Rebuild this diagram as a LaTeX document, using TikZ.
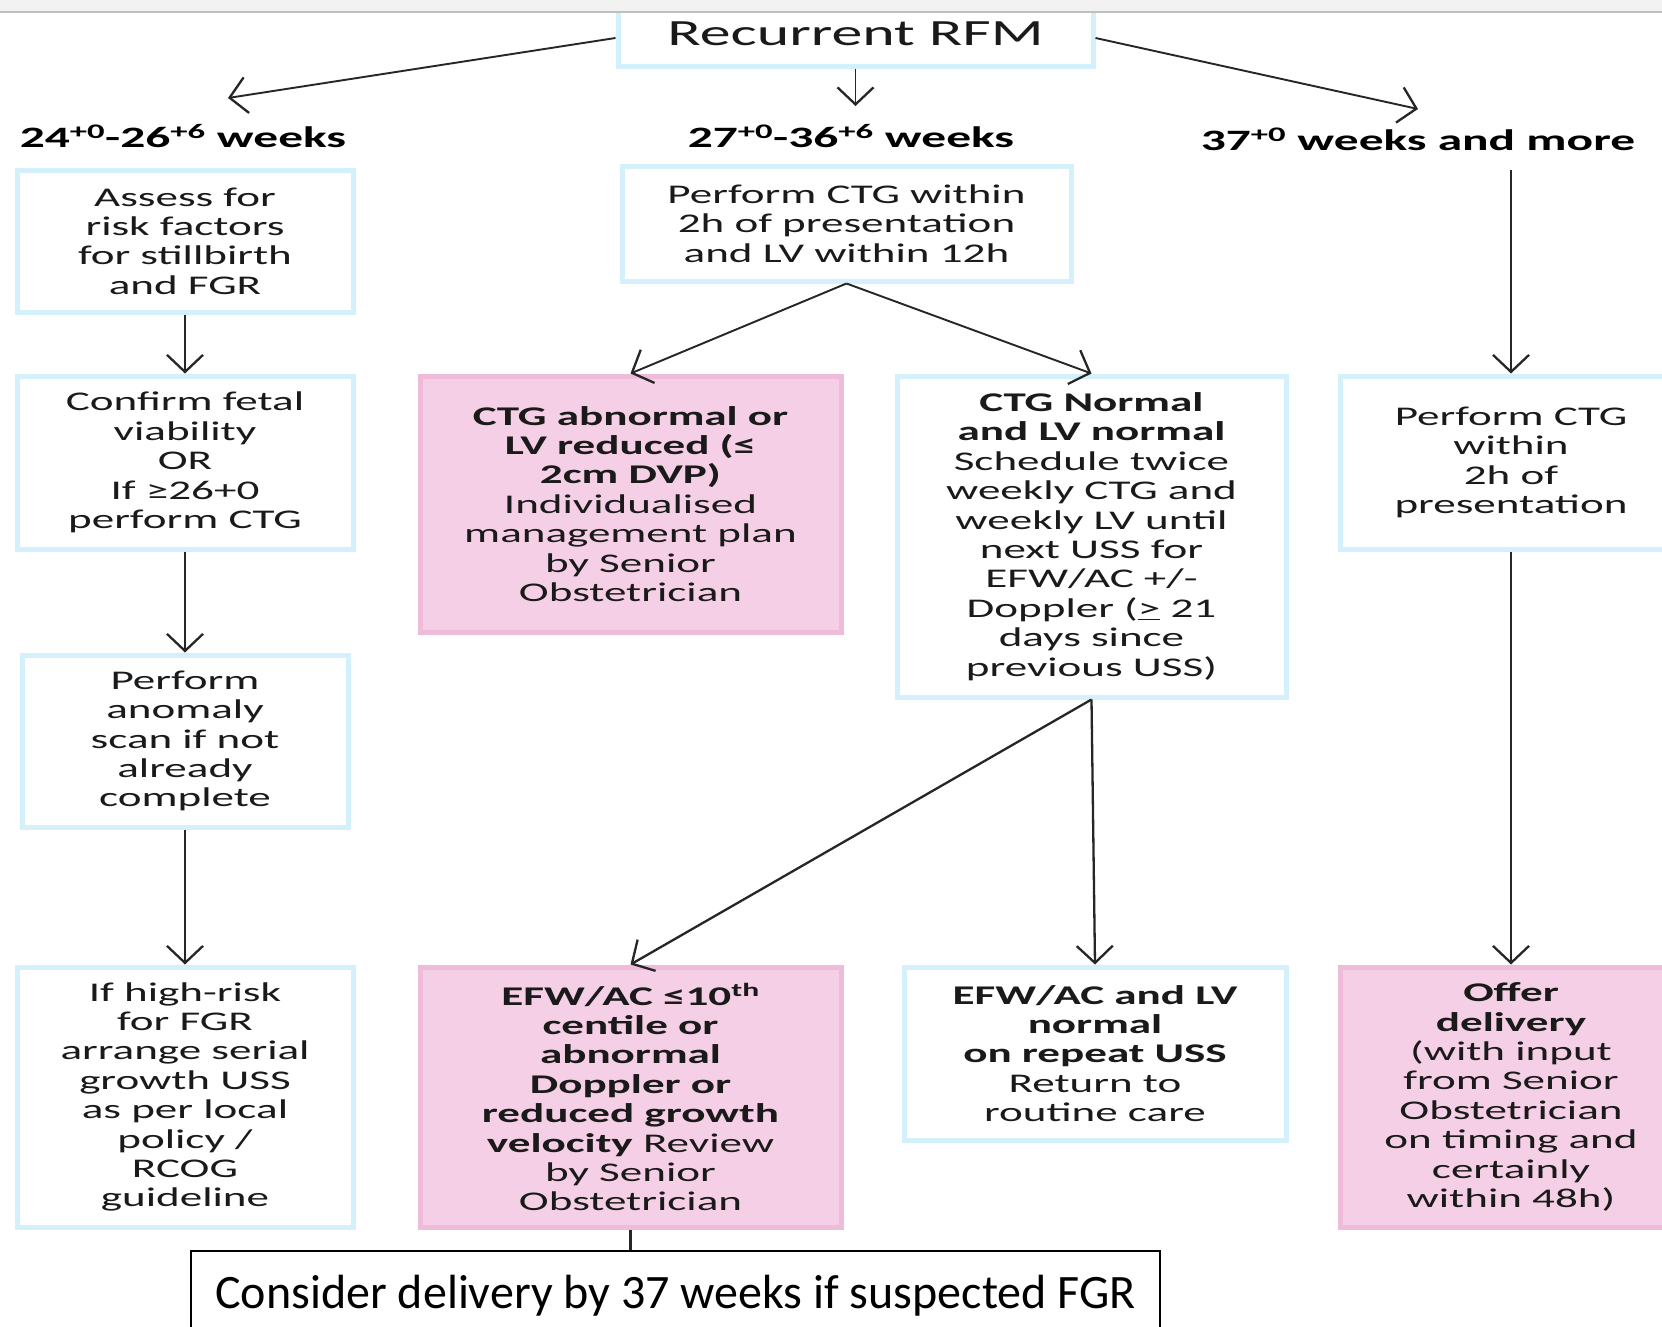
\documentclass[tikz,border=0pt]{standalone}
\usepackage{fontspec}
\setmainfont{Carlito}[FakeStretch=1.67]
\newfontfamily\plainfont{Carlito}
\usetikzlibrary{arrows.meta}
\definecolor{bbord}{HTML}{D3F0FB}
\definecolor{pfill}{HTML}{F5CFE5}
\definecolor{pbord}{HTML}{EEBBD9}
\definecolor{txt}{HTML}{1A1A1A}
\newcommand\bxfont{\fontsize{27}{29.4}\selectfont}
\newcommand\lbfont{\fontsize{29.6}{34}\selectfont\bfseries}
\begin{document}
\begin{tikzpicture}[x=1pt,y=-1pt,
  bbox/.style={draw=bbord, line width=5pt, fill=white, align=center, text=txt, inner sep=0pt, font=\bxfont},
  pbox/.style={draw=pbord, line width=5pt, fill=pfill, align=center, text=txt, inner sep=0pt, font=\bxfont},
  lbl/.style={font=\lbfont, text=black, inner sep=0pt},
  arr/.style={draw=black!85, line width=2.3pt, -{Straight Barb[length=17pt,width=36pt,line width=2.3pt]}},
  ln/.style={draw=black!85, line width=2.5pt}]
\useasboundingbox (0,0) rectangle (1662,1327);
\clip (0,0) rectangle (1662,1327);
\fill[white] (0,0) rectangle (1662,1327);

\node[bbox, minimum width=475pt, minimum height=67pt, font=\fontsize{37}{40}\selectfont] (top) at (855.5,33.5) {Recurrent RFM};
\fill[black!5] (0,0) rectangle (1662,11);
\draw[black!25, line width=2pt] (0,12) -- (1662,12);

\node[lbl] (w1) at (183,136) {24\textsuperscript{+0}-26\textsuperscript{+6} weeks};
\node[lbl] (w2) at (851,136) {27\textsuperscript{+0}-36\textsuperscript{+6} weeks};
\node[lbl] (w3) at (1418,139) {37\textsuperscript{+0} weeks and more};

\coordinate (a1) at (228,98);
\coordinate (a2) at (855.5,106);
\coordinate (a3) at (1418,109);
\coordinate (a4) at (1511,170);

% left column
\node[bbox, minimum width=336pt, minimum height=142pt] (b1) at (185,241) {Assess for\\risk factors\\for stillbirth\\and FGR};
\node[bbox, minimum width=336pt, minimum height=173pt] (b2) at (185,462.5) {Confirm fetal\\viability\\OR\\If ≥26+0\\perform CTG};
\node[bbox, minimum width=326pt, minimum height=172pt] (b3) at (185,741) {Perform\\anomaly\\scan if not\\already\\complete};
\node[bbox, minimum width=336pt, minimum height=260pt] (b4) at (185,1097) {If high-risk\\for FGR\\arrange serial\\growth USS\\as per local\\policy /\\RCOG\\guideline};

% middle
\node[bbox, minimum width=449pt, minimum height=115pt] (ctg) at (846.5,223.5) {Perform CTG within\\2h of presentation\\and LV within 12h};
\node[pbox, minimum width=421pt, minimum height=256pt] (ab) at (630.5,504) {\textbf{CTG abnormal or}\\\textbf{LV reduced (≤}\\\textbf{2cm DVP)}\\Individualised\\management plan\\by Senior\\Obstetrician};
\node[bbox, minimum width=389pt, minimum height=321pt] (nm) at (1091.5,536.5) {\textbf{CTG Normal}\\\textbf{and LV normal}\\Schedule twice\\weekly CTG and\\weekly LV until\\next USS for\\EFW/AC +/-\\Doppler (\underline{>} 21\\days since\\previous USS)};
\node[pbox, minimum width=421pt, minimum height=260pt] (efw) at (630.5,1097) {\textbf{EFW/AC ≤10\textsuperscript{th}}\\\textbf{centile or}\\\textbf{abnormal}\\\textbf{Doppler or}\\\textbf{reduced growth}\\\textbf{velocity} Review\\by Senior\\Obstetrician};
\node[bbox, minimum width=382pt, minimum height=173pt] (rt) at (1095,1053.5) {\textbf{EFW/AC and LV}\\\textbf{normal}\\\textbf{on repeat USS}\\Return to\\routine care};

% right
\node[bbox, minimum width=342pt, minimum height=173pt] (pc) at (1511,462.5) {Perform CTG\\within\\2h of\\presentation};
\node[pbox, minimum width=342pt, minimum height=260pt] (od) at (1511,1097) {\textbf{Offer}\\\textbf{delivery}\\(with input\\from Senior\\Obstetrician\\on timing and\\certainly\\within 48h)};

% bottom
\node[draw=black, line width=1.3pt, fill=white, minimum width=969pt, minimum height=92pt, inner sep=0pt] (cd) at (675.5,1297) {};
\node[font=\plainfont\fontsize{48}{50}\selectfont, inner sep=0pt] (cdt) at (675.5,1296) {Consider delivery by 37 weeks if suspected FGR};

% connectors
\draw[arr, line width=1.9pt] (top.west |- 0,38) -- (a1);
\draw[arr, line width=1.9pt] (top.south) -- (a2);
\draw[arr, line width=1.9pt] (top.east |- 0,38) -- (a3);
\draw[arr] (b1) -- (b2);
\draw[arr] (b2) -- (b3);
\draw[arr] (b3) -- (b4);
\draw[arr, line width=1.9pt] (ctg.south) -- (ab.north);
\draw[arr, line width=1.9pt] (ctg.south) -- (nm.north);
\draw[arr] (nm.south) -- (efw.north);
\draw[arr] (nm.south) -- (rt.north);
\draw[arr] (a4) -- (pc.north);
\draw[arr] (pc) -- (od);
\draw[ln] (efw.south) -- (efw.south |- cd.north);
\end{tikzpicture}
\end{document}
